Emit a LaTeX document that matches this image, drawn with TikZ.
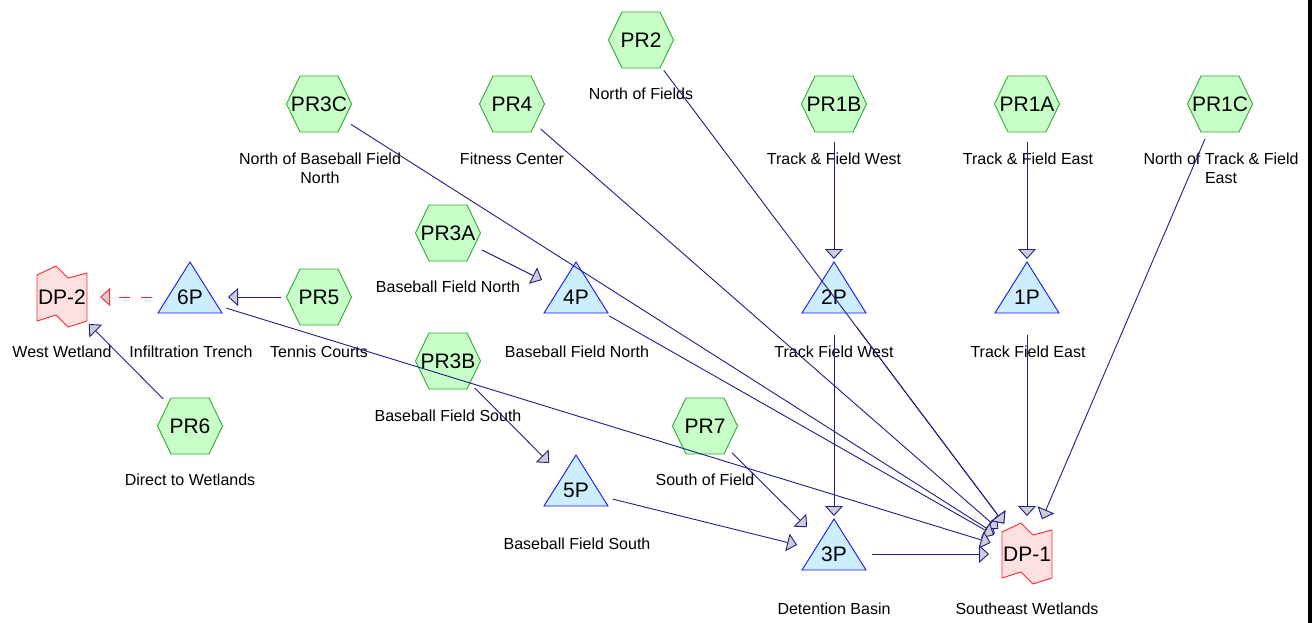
\documentclass[tikz,border=0pt]{standalone}
\usepackage{fontspec}
\setmainfont{Liberation Sans}
\usetikzlibrary{arrows.meta}
\definecolor{hexfill}{RGB}{200,255,200}
\definecolor{hexdraw}{RGB}{50,170,50}
\definecolor{pondfill}{RGB}{204,238,255}
\definecolor{ponddraw}{RGB}{20,20,255}
\definecolor{dpfill}{RGB}{255,224,224}
\definecolor{dpdraw}{RGB}{255,40,40}
\definecolor{flowc}{RGB}{30,30,140}
\definecolor{arrowfill}{RGB}{205,205,212}
\tikzset{
  basenode/.style={circle, minimum size=76pt, inner sep=0pt, outer sep=0pt,
    font=\fontsize{21}{24}\selectfont},
  hexpic/.pic={\filldraw[fill=hexfill, draw=hexdraw, line width=0.9pt]
      (32.5,0) -- (19,28) -- (-19,28) -- (-32.5,0) -- (-19,-28) -- (19,-28) -- cycle;},
  pondpic/.pic={\filldraw[fill=pondfill, draw=ponddraw, line width=0.9pt]
      (0,-35) -- (32,16) -- (-32,16) -- cycle;},
  dppic/.pic={\filldraw[fill=dpfill, draw=dpdraw, line width=0.9pt]
      (-25,-22) -- (-6,-31) -- (6,-19) -- (25,-24) -- (25,24) -- (6,30) -- (-6,18) -- (-25,24) -- cycle;},
  lab/.style={font=\fontsize{16}{19}\selectfont, inner sep=0pt, align=center},
  flow/.style={draw=flowc, line width=0.9pt, -{Triangle[length=10pt,width=18pt,fill=arrowfill]}},
  dpflow/.style={draw=dpdraw, line width=0.9pt, dash pattern=on 11pt off 11pt,
    -{Triangle[length=10pt,width=18pt,fill=arrowfill]}},
}
\begin{document}
\begin{tikzpicture}[x=1pt,y=-1pt]
\useasboundingbox[fill=white] (0,0) rectangle (1314,623);
\fill[black] (1308,0) rectangle (1312,623);

% shapes
\foreach \p in {(641,40),(319,104),(512,104),(834,104),(1027,104),(1220,104),(448,233),(319,297),(448,361),(190,426),(705,426)}
  \pic at \p {hexpic};
\foreach \p in {(190,297),(576,297),(834,297),(1027,297),(576,490),(834,554)}
  \pic at \p {pondpic};
\foreach \p in {(62,297),(1027,554)}
  \pic at \p {dppic};

% nodes
\node[basenode] (PR2) at (641,40) {PR2};
\node[basenode] (PR3C) at (319,104) {PR3C};
\node[basenode] (PR4) at (512,104) {PR4};
\node[basenode] (PR1B) at (834,104) {PR1B};
\node[basenode] (PR1A) at (1027,104) {PR1A};
\node[basenode] (PR1C) at (1220,104) {PR1C};
\node[basenode] (PR3A) at (448,233) {PR3A};
\node[basenode] (DP2) at (62,297) {DP-2};
\node[basenode] (P6) at (190,297) {6P};
\node[basenode] (PR5) at (319,297) {PR5};
\node[basenode] (P4) at (576,297) {4P};
\node[basenode] (P2) at (834,297) {2P};
\node[basenode] (P1) at (1027,297) {1P};
\node[basenode] (PR3B) at (448,361) {PR3B};
\node[basenode] (PR6) at (190,426) {PR6};
\node[basenode] (PR7) at (705,426) {PR7};
\node[basenode] (P5) at (576,490) {5P};
\node[basenode] (P3) at (834,554) {3P};
\node[basenode] (DP1) at (1027,554) {DP-1};

% labels
\node[lab] (lPR2) at (641,94) {North of Fields};
\node[lab] (lPR3C) at (320,168.5) {North of Baseball Field\\North};
\node[lab] (lPR4) at (512,159) {Fitness Center};
\node[lab] (lPR1B) at (834,159) {Track \& Field West};
\node[lab] (lPR1A) at (1028,159) {Track \& Field East};
\node[lab] (lPR1C) at (1221,168.5) {North of Track \& Field\\East};
\node[lab] (lPR3A) at (448,287) {Baseball Field North};
\node[lab] (l4P) at (577,352) {Baseball Field North};
\node[lab] (l2P) at (834,352) {Track Field West};
\node[lab] (l1P) at (1028,352) {Track Field East};
\node[lab] (lDP2) at (62,352) {West Wetland};
\node[lab] (l6P) at (191,352) {Infiltration Trench};
\node[lab] (lPR5) at (319,352) {Tennis Courts};
\node[lab] (lPR3B) at (448,416) {Baseball Field South};
\node[lab] (lPR6) at (190,480) {Direct to Wetlands};
\node[lab] (lPR7) at (705,480) {South of Field};
\node[lab] (l5P) at (577,544) {Baseball Field South};
\node[lab] (l3P) at (834,609) {Detention Basin};
\node[lab] (lDP1) at (1027,609) {Southeast Wetlands};

% connectors
\draw[flow] (PR2) -- (DP1);
\draw[flow] (PR3C) -- (DP1);
\draw[flow] (PR4) -- (DP1);
\draw[flow] (PR1B) -- (P2);
\draw[flow] (PR1A) -- (P1);
\draw[flow] (PR1C) -- (DP1);
\draw[flow] (PR3A) -- (P4);
\draw[flow] (P4) -- (DP1);
\draw[flow] (P2) -- (DP1);
\draw[flow] (P2) -- (P3);
\draw[flow] (P1) -- (DP1);
\draw[flow] (PR5) -- (P6);
\draw[dpflow] (P6) -- (DP2);
\draw[flow] (PR6) -- (DP2);
\draw[flow] (P6) -- (DP1);
\draw[flow] (PR3B) -- (P5);
\draw[flow] (PR7) -- (P3);
\draw[flow] (P5) -- (P3);
\draw[flow] (P3) -- (DP1);
\end{tikzpicture}
\end{document}
